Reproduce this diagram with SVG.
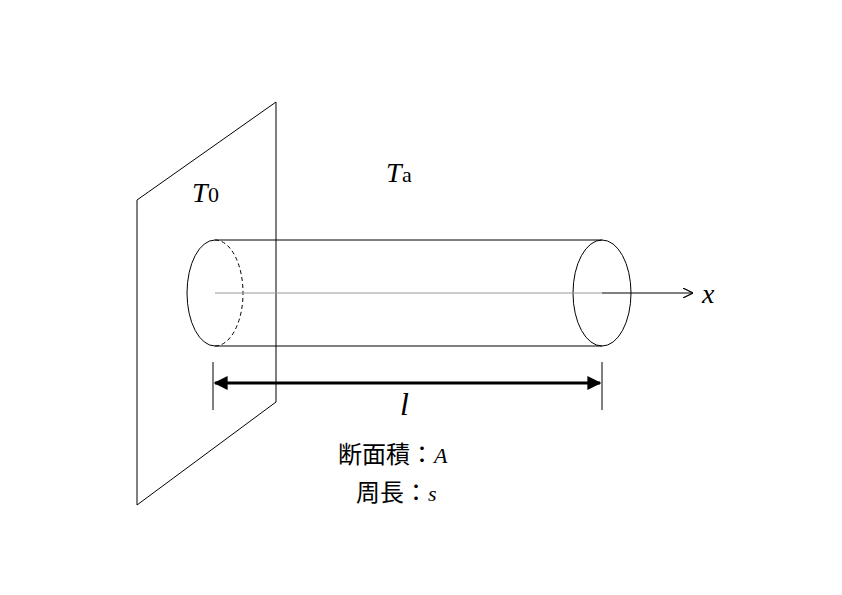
<svg xmlns="http://www.w3.org/2000/svg" width="842" height="595" viewBox="0 0 842 595">
<defs>
<marker id="ah" viewBox="0 0 10 10" refX="10" refY="5" markerWidth="10" markerHeight="10" markerUnits="userSpaceOnUse" orient="auto"><path d="M0,0 L10,5 L0,10" fill="none" stroke="#000" stroke-width="1.2"/></marker>
<marker id="bh" viewBox="0 0 10 10" refX="9" refY="5" markerWidth="14" markerHeight="14" markerUnits="userSpaceOnUse" orient="auto-start-reverse"><path d="M0,0 L10,5 L0,10 Z" fill="#000"/></marker>
</defs>
<style>
.l{fill:none;stroke:#000;stroke-width:1}
.t{font-family:"Liberation Serif","Noto Sans CJK JP",serif;fill:#000}
</style>
<rect width="842" height="595" fill="#fff"/>
<path class="l" d="M137,200 L276,102 L276,402 L137,505 Z"/>
<line x1="215" y1="240" x2="602" y2="240" class="l"/>
<line x1="215" y1="346" x2="602" y2="346" class="l"/>
<path class="l" d="M215,240 A28,53 0 0 0 215,346"/>
<path class="l" stroke-dasharray="4,3" d="M215,240 A28,53 0 0 1 215,346"/>
<ellipse cx="602" cy="293" rx="29" ry="53" class="l"/>
<line x1="215" y1="293" x2="602" y2="293" stroke="#999" stroke-width="1"/>
<line x1="602" y1="293" x2="693" y2="293" class="l" marker-end="url(#ah)"/>
<line x1="213" y1="362" x2="213" y2="410" class="l"/>
<line x1="602" y1="362" x2="602" y2="410" class="l"/>
<line x1="215" y1="383" x2="600" y2="383" stroke="#000" stroke-width="3" marker-start="url(#bh)" marker-end="url(#bh)"/>
<text class="t" x="192" y="202" font-size="28" font-style="italic">T</text><text class="t" x="208" y="202" font-size="22">0</text>
<text class="t" x="386" y="182" font-size="28" font-style="italic">T</text><text class="t" x="402" y="182" font-size="22">a</text>
<text class="t" x="702" y="303" font-size="28" font-style="italic">x</text>
<text class="t" x="400" y="415" font-size="32" font-style="italic">l</text>
<text class="t" x="338" y="463" font-size="24">断面積：<tspan font-style="italic" font-size="22">A</tspan></text>
<text class="t" x="356" y="501" font-size="24">周長：<tspan font-style="italic" font-size="22">s</tspan></text>
</svg>
